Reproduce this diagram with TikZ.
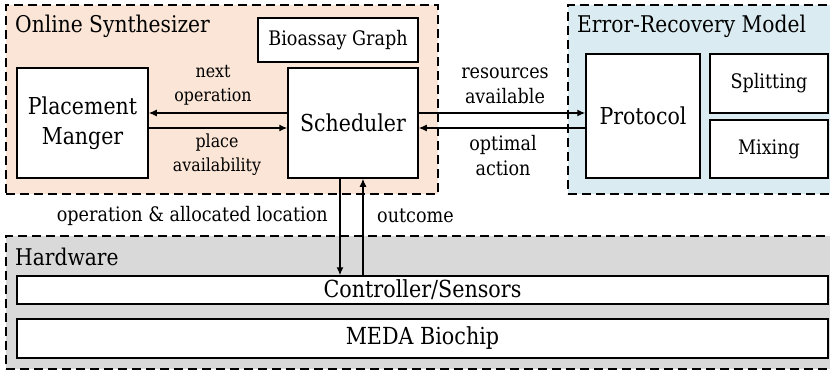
\documentclass[tikz,border=0pt]{standalone}
\usepackage{fontspec}
\setmainfont[FakeStretch=0.88]{DejaVu Serif}
\usetikzlibrary{arrows.meta}
\definecolor{synfill}{HTML}{FBE5D6}
\definecolor{errfill}{HTML}{DAECF2}
\definecolor{hwfill}{HTML}{D9D9D9}
\begin{document}
\begin{tikzpicture}[x=1pt,y=-1pt,
  grp/.style={draw, line width=1.6pt, dash pattern=on 9pt off 5pt, inner sep=0, anchor=north west},
  box/.style={draw, line width=1.5pt, fill=white, inner sep=0, align=center, font=\fontsize{23.3}{30}\selectfont},
  sbox/.style={box, font=\fontsize{20}{24}\selectfont},
  wbox/.style={box, font=\fontsize{23.5}{28}\selectfont},
  title/.style={anchor=west, inner sep=0, font=\fontsize{23}{27}\selectfont},
  lbl/.style={inner sep=0, align=center, font=\fontsize{18}{24}\selectfont},
  rlbl/.style={lbl, font=\fontsize{20}{25}\selectfont},
  flow/.style={line width=1.2pt, -{Latex[length=8pt,width=7pt]}}]
\useasboundingbox (0,0) rectangle (830,370);
\clip (0,0) rectangle (830,370);

% groups
\node[grp, fill=synfill, minimum width=432, minimum height=189] (syn) at (5,4) {};
\node[grp, fill=errfill, minimum width=280, minimum height=189] (err) at (567,4) {};
\node[grp, fill=hwfill, minimum width=840, minimum height=133] (hw) at (5,235) {};
\node[title] (syntitle) at (15,26) {Online Synthesizer};
\node[title] (errtitle) at (577,26) {Error-Recovery Model};
\node[title] (hwtitle) at (15,257) {Hardware};

% blocks
\node[sbox, minimum width=160, minimum height=44] (bio) at (338,40) {Bioassay Graph};
\node[box, minimum width=131, minimum height=110] (pm) at (82.5,123) {Placement\\Manger};
\node[box, minimum width=130, minimum height=110] (sched) at (353,123) {Scheduler};
\node[box, minimum width=114, minimum height=124] (proto) at (643,116) {Protocol};
\node[sbox, minimum width=118, minimum height=59] (split) at (769,83.5) {Splitting};
\node[sbox, minimum width=118, minimum height=58] (mix) at (769,149) {Mixing};
\node[wbox, minimum width=811, minimum height=28] (ctrl) at (422.5,290) {Controller/Sensors};
\node[wbox, minimum width=811, minimum height=39] (meda) at (422.5,338.5) {MEDA Biochip};

% connectors
\coordinate (l1) at ([yshift=10pt]sched.west);
\coordinate (l2) at ([yshift=-5pt]sched.west);
\coordinate (r1) at ([yshift=10pt]sched.east);
\coordinate (r2) at ([yshift=-5pt]sched.east);
\coordinate (d1) at ([xshift=-13pt]sched.south);
\coordinate (d2) at ([xshift=10pt]sched.south);
\draw[flow] (l1) -- (l1 -| pm.east);
\draw[flow] (l2 -| pm.east) -- (l2);
\draw[flow] (r1) -- (r1 -| proto.west);
\draw[flow] (r2 -| proto.west) -- (r2);
\draw[flow] (d1) -- (d1 |- ctrl.north);
\draw[flow] (d2 |- ctrl.north) -- (d2);

% labels
\node[lbl] (lnext) at (213,85) {next\\operation};
\node[lbl] (lplace) at (217,155) {place\\availability};
\node[rlbl] (lres) at (505,86) {resources\\available};
\node[rlbl] (lopt) at (503,156) {optimal\\action};
\node[rlbl, anchor=east] (lop) at (328,216) {operation \& allocated location};
\node[rlbl, anchor=west] (lout) at (377,216) {outcome};
\end{tikzpicture}
\end{document}
